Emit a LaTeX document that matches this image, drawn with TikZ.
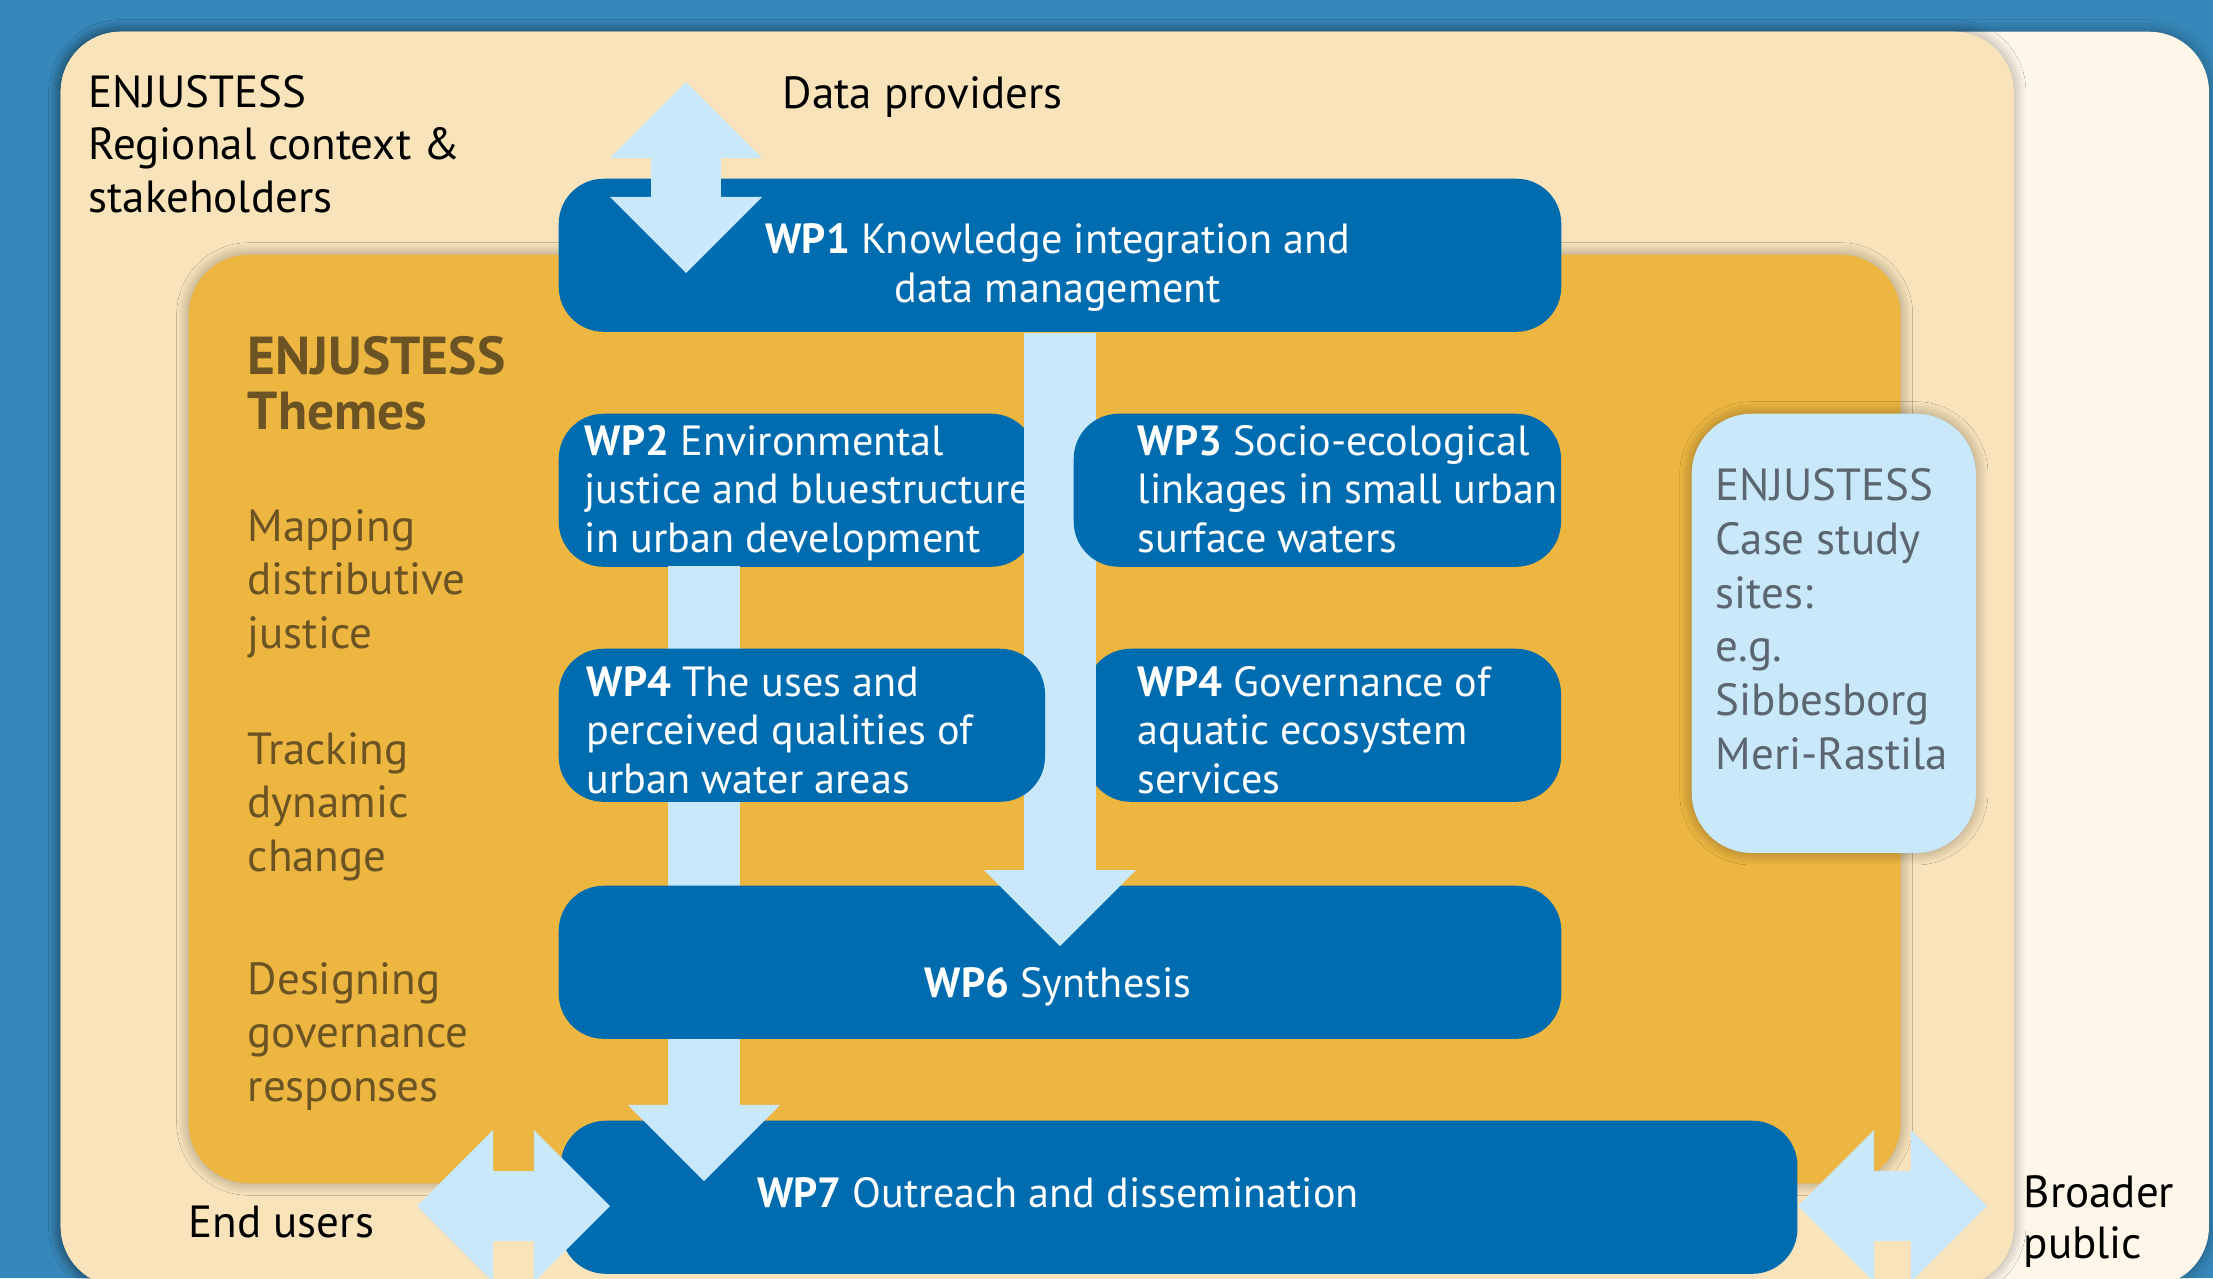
\documentclass[tikz,border=0pt]{standalone}
\usepackage{fontspec}
\setmainfont{PT Sans}
\usetikzlibrary{positioning,arrows.meta,shadows.blur}

\definecolor{bgblue}{HTML}{3788BA}
\definecolor{paleback}{HTML}{FEF6E8}
\definecolor{cream}{HTML}{F8E3BB}
\definecolor{themeorange}{HTML}{ECB641}
\definecolor{wpblue}{HTML}{006CB0}
\definecolor{skyblue}{HTML}{C9E8F9}
\definecolor{themebrown}{HTML}{6B5323}
\definecolor{casegray}{HTML}{5B6670}

\begin{document}
\begin{tikzpicture}[x=0.01cm,y=-0.01cm,
  panel/.style={fill=#1, draw=none, rounded corners=0.6cm, anchor=north west, inner sep=0pt,
    blur shadow={shadow xshift=0pt, shadow yshift=0pt, shadow blur radius=0.12cm,
      shadow blur steps=16, shadow opacity=35}},
  wpbox/.style={fill=wpblue, draw=none, rounded corners=0.45cm, anchor=north west, inner sep=0pt,
    minimum height=1.53cm},
  plain/.style={font=\fontsize{12.8}{14.8}\selectfont, text=black, align=left, anchor=base west, inner sep=0pt},
  theme/.style={font=\fontsize{12.8}{15.1}\selectfont, text=themebrown, align=left, anchor=base west, inner sep=0pt},
  wptext/.style={font=\fontsize{12}{13.66}\selectfont, text=white, align=left, anchor=base west, inner sep=0pt},
  flow/.style={draw=skyblue, line width=0.71cm, -{Triangle[width=1.52cm,length=0.76cm,line width=0pt]}},
  twoway/.style={draw=skyblue, line width=0.70cm,
    {Triangle[width=1.52cm,length=0.76cm,line width=0pt]}-{Triangle[width=1.52cm,length=0.76cm,line width=0pt]}}]

\useasboundingbox (0,0) rectangle (2213,1278);
\fill[bgblue] (0,0) rectangle (2213,1278);

\node[panel=paleback, minimum width=21.47cm, minimum height=12.54cm] (outer) at (60,31) {};
\node[panel=cream, minimum width=19.52cm, minimum height=12.54cm] (context) at (60,31) {};
\node[panel=themeorange, minimum width=17.11cm, minimum height=9.28cm] (themes) at (188,254) {};
\node[panel=skyblue, minimum width=2.84cm, minimum height=4.39cm] (cases) at (1691,413) {};

\node[plain] (ctxlabel) at (88,212) {ENJUSTESS\\Regional context \&\\stakeholders};
\node[plain] (dataprov) at (782,108) {Data providers};
\node[plain] (endusers) at (188,1237) {End users};
\node[plain, font=\fontsize{12.8}{14.5}\selectfont] (broader) at (2023,1258) {Broader\\public};
\node[theme, font=\bfseries\fontsize{15.2}{15.4}\selectfont] (themehead) at (247,429) {ENJUSTESS\\Themes};
\node[theme] (mapping) at (247,648) {Mapping\\distributive\\justice};
\node[theme] (tracking) at (247,871) {Tracking\\dynamic\\change};
\node[theme] (designing) at (247,1101) {Designing\\governance\\responses};
\node[theme, text=casegray, font=\fontsize{12.8}{15.25}\selectfont] (caselabel) at (1715,769)
  {ENJUSTESS\\Case study\\sites:\\e.g.\\Sibbesborg\\Meri-Rastila};

\node[wpbox, minimum width=10.02cm] (wp1) at (558,178) {};
\node[wptext, align=center, anchor=base] (wp1text) at (1058,302)
  {\textbf{WP1} Knowledge integration and\\data management};
\node[wpbox, minimum width=4.77cm] (wp2) at (558,413) {};
\node[wptext] (wp2text) at (584,552)
  {\textbf{WP2} Environmental\\justice and bluestructure\\in urban development};
\node[wpbox, minimum width=4.75cm] (wp4b) at (1085,648) {};
\node[wpbox, minimum width=12.36cm] (wp7) at (560,1120) {};

\coordinate (wp2out) at (704,566);
\coordinate (wp7in) at (704,1181);
\draw[flow] (wp2out) -- (wp7in);

\node[wpbox, minimum width=10.02cm] (wp6) at (558,885) {};
\draw[flow] (wp1.south) -- ([yshift=-0.61cm]wp6.north);

\coordinate (dptop) at (686,82);
\coordinate (dpbot) at (686,273);
\draw[twoway] (dptop) -- (dpbot);

\node[wpbox, minimum width=4.87cm] (wp3) at (1073,413) {};
\node[wpbox, minimum width=4.86cm] (wp4a) at (558,648) {};

\coordinate (endl) at (417,1206);
\coordinate (endr) at (610,1206);
\draw[twoway] (endl) -- (endr);
\coordinate (publ) at (1798,1206);
\coordinate (pubr) at (1987,1206);
\draw[twoway] (publ) -- (pubr);

\node[wptext] (wp3text) at (1137,552)
  {\textbf{WP3} Socio-ecological\\linkages in small urban\\surface waters};
\node[wptext] (wp4atext) at (586,793)
  {\textbf{WP4} The uses and\\perceived qualities of\\urban water areas};
\node[wptext] (wp4btext) at (1137,793)
  {\textbf{WP4} Governance of\\aquatic ecosystem\\services};
\node[wptext, anchor=base] (wp6text) at (1058,997) {\textbf{WP6} Synthesis};
\node[wptext, anchor=base] (wp7text) at (1058,1207) {\textbf{WP7} Outreach and dissemination};
\end{tikzpicture}
\end{document}
